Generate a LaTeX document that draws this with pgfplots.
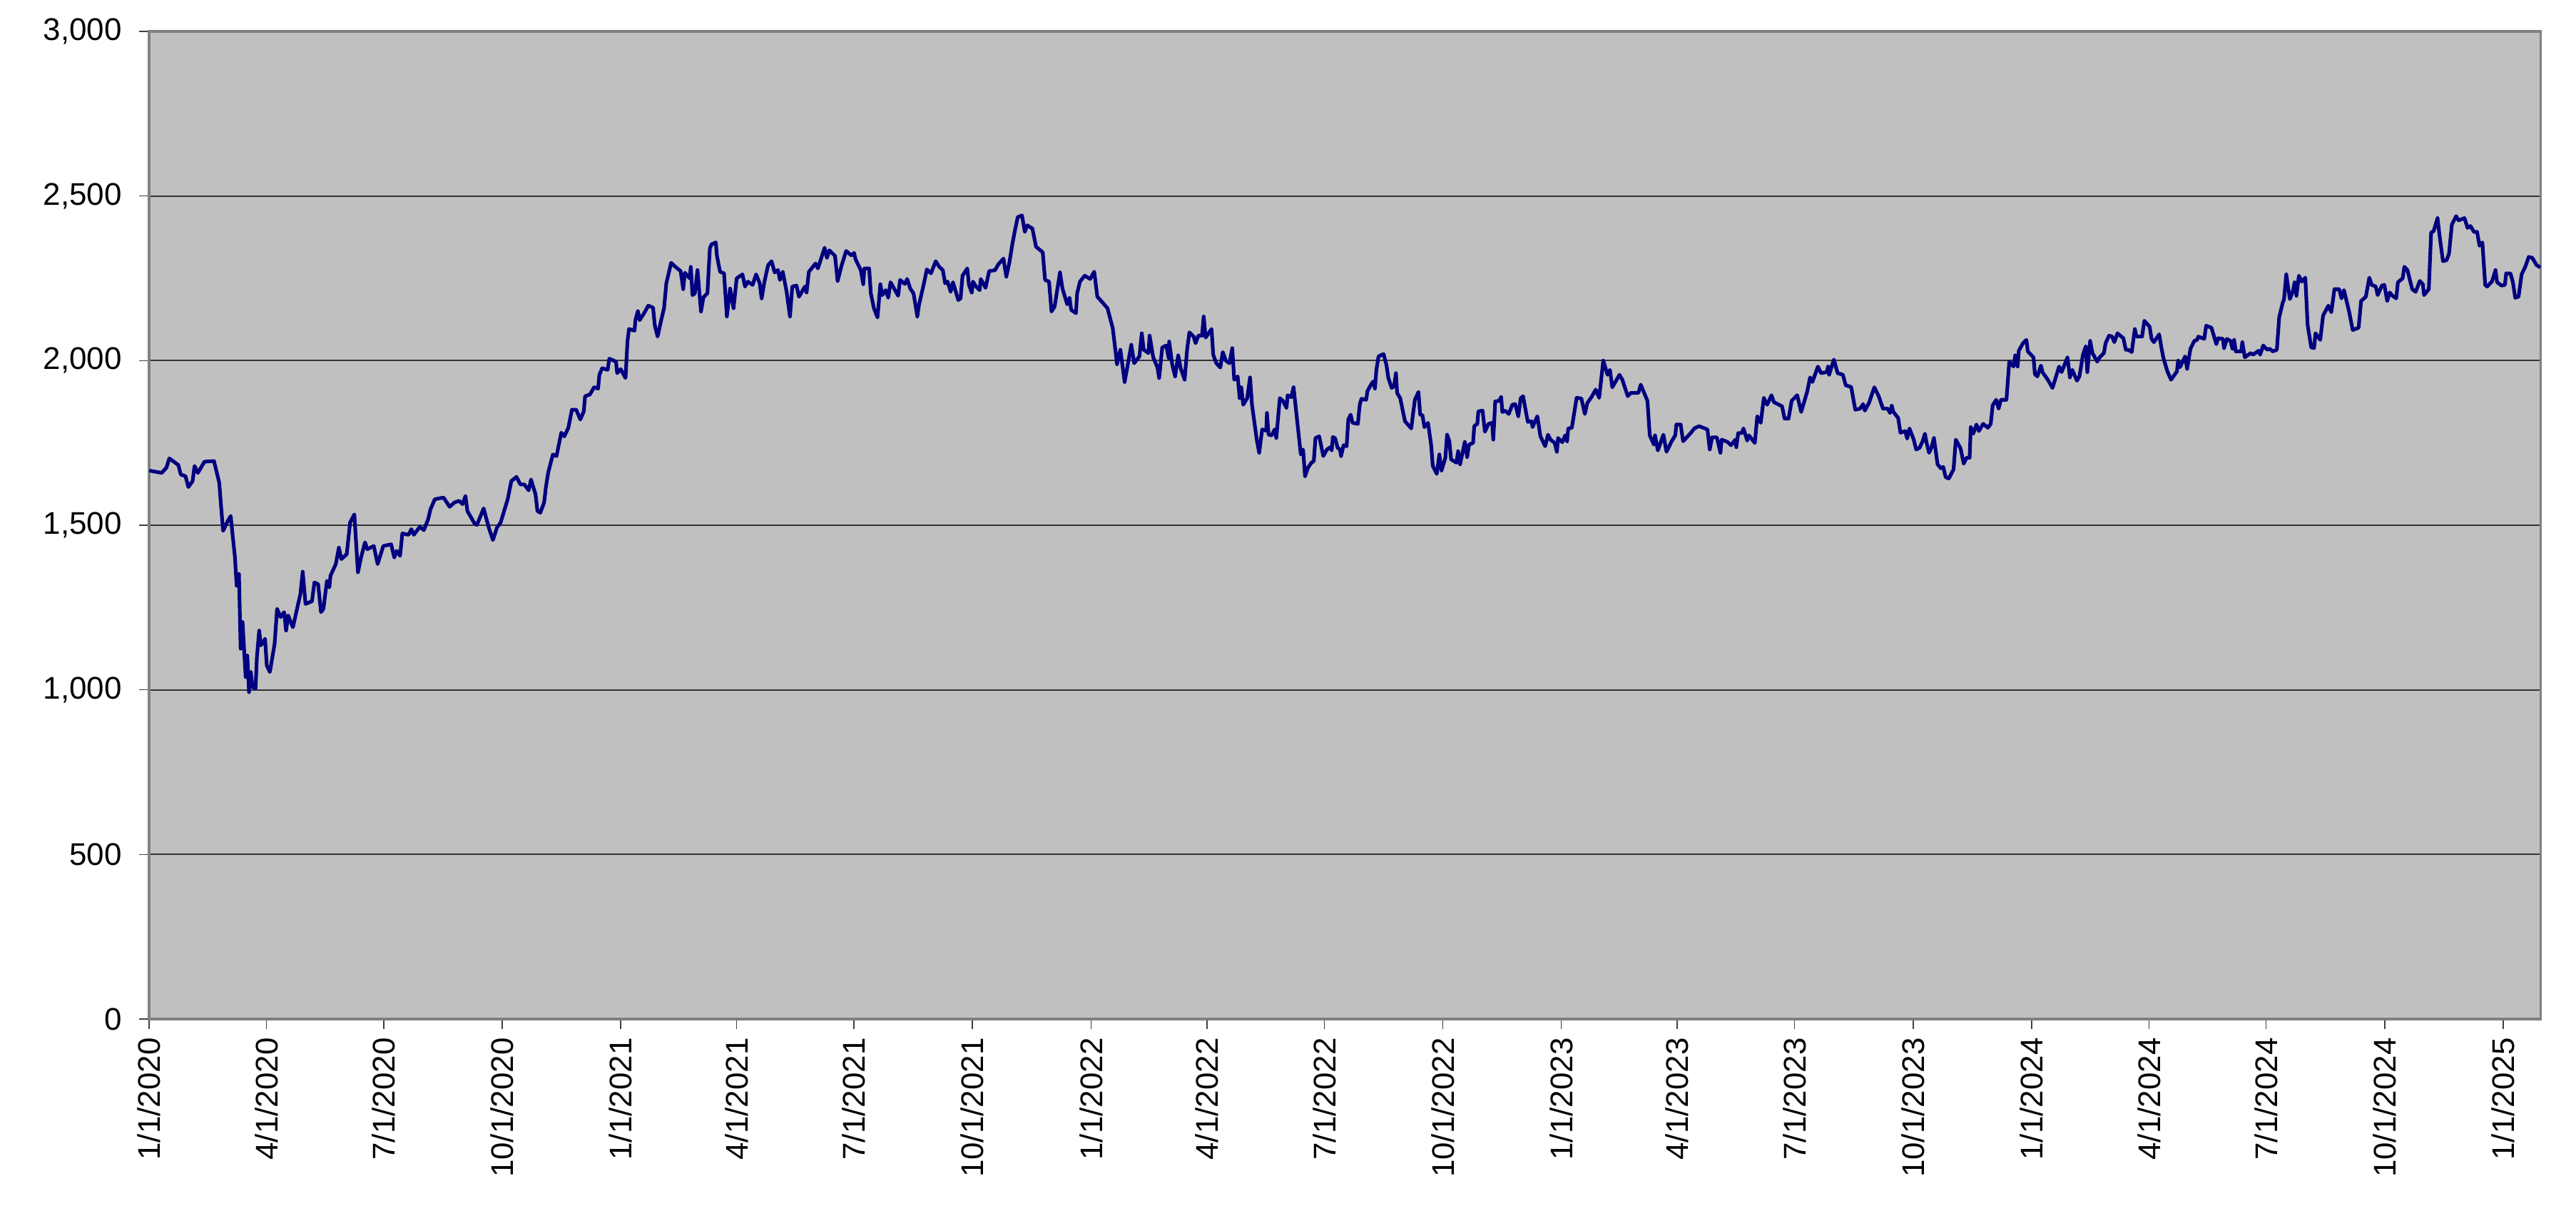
\documentclass[border=0pt]{standalone}
\usepackage{fontspec}
\setmainfont{Liberation Sans}
\usepackage{pgfplots}
\usepackage{pgfplotstable}
\pgfplotsset{compat=1.18}
\definecolor{silverbg}{RGB}{192,192,192}
\definecolor{navyline}{RGB}{0,0,128}
\definecolor{bordergray}{RGB}{128,128,128}
\pgfplotstableread{
x y
1.2 1666
10.9 1659
14.6 1675
16.8 1703
23.8 1683
25.7 1654
29.4 1649
31.6 1616
34.9 1634
36.4 1680
39.0 1659
44.1 1693
51.5 1695
55.6 1629
57.1 1553
58.6 1483
62.2 1513
64.5 1528
65.9 1473
67.8 1402
69.1 1316
70.9 1352
72.2 1125
73.7 1206
76.1 1039
77.4 1104
78.7 993
80.1 1054
81.4 1009
83.8 1004
84.8 1098
86.6 1180
87.9 1135
91.2 1155
92.5 1074
94.9 1054
98.6 1140
100.5 1246
103.2 1221
106.0 1236
107.5 1180
109.1 1226
112.8 1190
118.6 1291
120.4 1359
122.6 1261
127.6 1269
129.5 1326
132.4 1321
134.6 1236
136.5 1246
139.2 1331
141.1 1311
142.0 1347
146.1 1382
148.5 1432
150.4 1397
154.6 1412
157.2 1508
160.5 1533
163.3 1357
165.7 1402
168.8 1448
170.6 1427
175.6 1437
178.6 1382
183.0 1437
189.1 1442
191.5 1402
193.4 1422
196.0 1407
197.8 1475
202.6 1471
204.8 1488
206.7 1471
211.3 1495
214.5 1485
217.8 1518
219.6 1548
223.0 1579
229.8 1584
234.5 1556
238.2 1569
241.9 1574
244.6 1564
246.8 1589
248.3 1543
253.9 1505
255.7 1501
260.9 1551
264.9 1493
268.1 1455
271.3 1493
274.1 1508
279.6 1579
282.4 1634
286.4 1647
289.4 1624
292.5 1624
295.9 1606
297.7 1639
301.2 1594
302.7 1543
304.9 1538
307.9 1569
309.2 1614
311.0 1659
314.7 1715
317.5 1710
321.2 1781
323.6 1770
326.7 1796
329.5 1851
332.8 1851
336.0 1821
338.7 1846
339.7 1892
343.4 1897
346.7 1919
349.8 1915
350.8 1957
353.0 1977
357.2 1972
358.5 2006
363.7 1997
364.6 1962
367.4 1974
371.1 1947
372.6 2058
373.8 2096
378.1 2091
378.8 2123
380.7 2151
382.1 2123
385.5 2144
388.8 2167
392.5 2161
393.8 2108
396.0 2073
398.8 2123
401.0 2159
402.8 2235
406.5 2297
409.8 2285
413.9 2272
415.9 2217
417.2 2267
420.9 2250
421.8 2285
423.1 2199
424.9 2204
427.0 2275
429.7 2149
431.6 2192
434.7 2205
436.6 2341
437.8 2353
441.2 2359
442.1 2318
444.5 2270
447.6 2265
449.8 2134
452.3 2219
455.0 2159
457.4 2250
461.9 2262
463.9 2225
466.1 2240
469.8 2230
472.5 2262
475.3 2235
476.8 2189
479.0 2240
481.8 2290
484.5 2302
486.9 2268
489.5 2275
491.0 2245
493.2 2270
496.2 2209
498.8 2134
500.6 2225
503.9 2228
505.8 2194
510.4 2225
511.7 2207
513.5 2270
518.7 2295
520.5 2280
525.7 2343
527.5 2312
529.4 2335
533.8 2318
535.8 2242
539.0 2290
542.4 2333
546.4 2320
548.6 2327
549.7 2308
553.8 2275
555.7 2232
556.6 2280
560.3 2280
561.6 2204
564.0 2159
566.8 2131
569.0 2232
570.5 2199
573.2 2214
575.1 2191
576.9 2238
578.8 2225
582.8 2197
584.3 2245
588.0 2233
589.8 2248
592.2 2219
594.8 2204
597.7 2134
599.0 2169
602.7 2232
605.1 2277
608.3 2265
612.0 2302
614.7 2285
617.5 2275
619.3 2235
621.2 2240
623.6 2209
625.4 2238
629.5 2184
631.3 2189
632.8 2258
636.5 2280
637.8 2230
640.0 2206
640.9 2240
643.3 2225
646.1 2214
647.0 2248
650.7 2221
653.5 2272
658.1 2275
660.5 2292
664.6 2310
666.8 2255
669.2 2298
671.6 2356
673.8 2401
675.7 2436
679.0 2441
681.2 2391
683.1 2411
687.1 2401
689.9 2346
695.1 2329
696.9 2245
700.0 2240
701.9 2149
704.3 2164
708.5 2268
710.4 2219
714.1 2171
715.9 2191
717.2 2154
720.9 2144
721.8 2204
724.0 2240
727.7 2258
731.9 2248
735.1 2270
737.5 2194
742.1 2174
745.4 2159
749.5 2098
752.8 1989
755.4 2033
758.7 1935
763.9 2048
766.1 1992
770.2 2013
772.0 2083
773.5 2033
777.2 2023
778.1 2076
780.9 2010
784.2 1979
785.5 1947
787.9 2040
791.0 2046
792.9 2008
793.3 2058
795.7 1987
797.9 1952
800.3 2016
802.2 1977
805.3 1942
807.2 2033
809.0 2086
812.3 2073
813.8 2053
816.0 2076
818.8 2076
820.1 2134
821.6 2070
826.2 2096
827.5 2018
829.9 1992
833.0 1979
834.9 2026
837.3 2000
840.1 1992
842.3 2038
843.8 1942
846.5 1952
848.0 1886
849.3 1919
850.8 1866
853.9 1886
856.1 1949
857.6 1866
861.3 1760
863.2 1720
865.5 1791
868.7 1787
869.2 1841
870.5 1775
872.9 1773
875.2 1791
876.5 1765
879.2 1886
881.6 1878
884.4 1856
885.3 1895
888.1 1889
889.9 1919
895.5 1715
897.3 1730
898.8 1649
901.0 1674
903.8 1690
905.6 1695
906.9 1765
909.8 1770
913.0 1710
915.8 1730
918.5 1737
919.5 1727
920.4 1768
922.2 1764
924.1 1735
925.9 1730
926.8 1710
928.7 1743
931.1 1740
932.4 1821
934.2 1836
935.7 1811
939.8 1808
941.3 1866
942.6 1884
946.3 1881
947.2 1907
950.0 1927
951.8 1937
953.1 1915
954.2 1972
955.9 2013
959.8 2020
962.0 1987
963.5 1947
966.1 1917
967.9 1922
969.4 1962
970.3 1902
972.7 1886
976.4 1816
981.3 1794
982.6 1836
984.1 1881
986.9 1905
988.2 1836
990.0 1834
991.5 1798
994.3 1811
996.7 1745
998.0 1680
1001.1 1656
1003.1 1715
1004.8 1666
1007.8 1705
1009.1 1775
1010.9 1755
1012.2 1700
1016.4 1690
1017.7 1725
1019.2 1685
1022.9 1753
1024.7 1707
1026.2 1745
1029.3 1750
1030.2 1801
1032.6 1808
1033.4 1846
1036.7 1848
1038.5 1784
1041.3 1808
1044.1 1811
1045.0 1760
1046.5 1876
1049.6 1878
1051.1 1890
1052.0 1844
1054.2 1848
1057.0 1838
1059.8 1866
1062.0 1868
1064.4 1831
1066.3 1886
1068.1 1892
1071.8 1814
1074.6 1816
1075.5 1798
1079.2 1831
1081.6 1770
1085.3 1740
1087.5 1775
1089.4 1760
1092.7 1750
1094.4 1723
1095.3 1765
1098.6 1752
1100.8 1773
1102.3 1755
1103.2 1794
1106.0 1796
1109.7 1887
1113.4 1885
1116.1 1838
1118.0 1871
1121.7 1892
1124.5 1912
1127.2 1887
1130.4 2000
1133.7 1957
1135.6 1972
1137.4 1919
1143.0 1957
1145.2 1942
1149.4 1892
1151.8 1902
1157.7 1902
1159.5 1927
1164.7 1878
1166.5 1773
1169.7 1745
1170.6 1773
1172.8 1727
1177.1 1775
1179.5 1723
1183.5 1755
1186.3 1773
1187.2 1806
1190.5 1806
1192.4 1755
1198.3 1780
1201.1 1794
1204.8 1801
1211.3 1791
1213.1 1730
1214.9 1767
1218.6 1767
1221.4 1720
1222.3 1760
1226.9 1753
1229.6 1743
1233.0 1760
1233.7 1737
1235.2 1780
1238.0 1780
1239.3 1794
1242.2 1757
1243.5 1773
1248.1 1750
1250.0 1831
1252.7 1811
1255.1 1887
1257.7 1866
1261.0 1895
1262.9 1874
1269.3 1861
1271.2 1824
1274.3 1824
1276.7 1878
1281.0 1895
1284.1 1844
1288.7 1905
1291.0 1949
1292.8 1935
1297.1 1982
1299.5 1962
1303.9 1965
1305.0 1982
1305.8 1957
1309.5 2003
1312.4 1962
1316.5 1957
1318.7 1925
1322.9 1920
1326.1 1851
1329.8 1854
1332.2 1868
1333.5 1848
1336.7 1871
1340.9 1919
1344.3 1892
1347.6 1854
1351.3 1854
1353.1 1841
1354.4 1864
1355.7 1844
1359.4 1826
1361.2 1781
1364.9 1786
1366.4 1763
1368.2 1794
1371.5 1760
1373.4 1730
1376.0 1735
1378.4 1755
1380.2 1778
1381.5 1750
1383.4 1720
1385.2 1735
1387.2 1765
1390.0 1685
1392.6 1673
1394.4 1677
1396.3 1646
1398.7 1642
1402.4 1669
1404.2 1760
1407.9 1733
1410.3 1687
1412.5 1705
1414.9 1705
1415.8 1798
1417.7 1778
1420.2 1806
1422.1 1786
1425.4 1808
1429.1 1796
1431.3 1808
1432.8 1864
1435.5 1881
1437.4 1854
1439.2 1881
1443.5 1881
1445.7 1997
1449.0 1982
1450.3 2016
1452.2 1982
1453.1 2030
1456.4 2053
1459.0 2063
1460.1 2028
1464.5 2010
1465.6 1959
1467.5 1952
1470.3 1985
1471.5 1965
1475.6 1942
1479.3 1917
1484.4 1982
1486.3 1965
1490.9 2010
1492.8 1949
1494.6 1972
1498.3 1939
1500.2 1952
1502.9 2018
1505.1 2043
1506.3 1965
1508.5 2060
1510.3 2023
1514.0 1997
1515.9 2010
1519.2 2023
1520.5 2053
1523.2 2076
1525.5 2073
1527.3 2056
1529.7 2083
1534.3 2068
1536.2 2033
1538.0 2033
1540.8 2026
1543.2 2096
1544.5 2073
1548.8 2073
1550.6 2121
1554.7 2103
1556.2 2066
1558.0 2056
1562.1 2080
1563.9 2038
1565.4 2008
1568.5 1967
1571.3 1942
1575.9 1967
1576.8 2000
1578.3 1980
1582.3 2013
1583.8 1975
1586.4 2036
1589.4 2060
1591.6 2063
1592.5 2073
1597.1 2066
1598.6 2106
1602.7 2100
1606.5 2050
1607.9 2068
1611.6 2066
1612.5 2038
1614.7 2066
1617.5 2060
1619.0 2036
1620.3 2063
1621.6 2028
1625.8 2028
1626.7 2056
1628.6 2010
1633.2 2023
1635.0 2018
1639.3 2030
1640.5 2018
1642.9 2046
1646.1 2033
1647.9 2036
1650.3 2028
1653.5 2033
1655.3 2131
1658.1 2177
1659.0 2184
1660.8 2262
1663.6 2187
1666.0 2211
1667.3 2238
1668.7 2197
1670.6 2258
1672.8 2240
1675.6 2252
1677.4 2108
1680.2 2040
1682.4 2038
1683.5 2083
1687.2 2063
1689.4 2137
1693.5 2167
1695.8 2147
1698.2 2217
1701.9 2217
1703.7 2189
1705.6 2214
1709.6 2149
1712.4 2093
1717.0 2100
1718.9 2181
1722.6 2194
1725.3 2252
1727.2 2230
1730.3 2225
1731.8 2199
1735.1 2228
1737.0 2230
1739.2 2181
1741.1 2207
1743.3 2197
1746.2 2189
1747.5 2238
1751.2 2250
1752.5 2285
1754.9 2275
1758.6 2217
1761.3 2209
1764.5 2242
1766.9 2232
1767.8 2199
1771.5 2217
1773.3 2389
1775.2 2393
1778.3 2433
1779.8 2381
1782.5 2302
1785.3 2305
1787.2 2325
1789.4 2413
1792.7 2439
1794.6 2426
1799.2 2433
1801.6 2403
1803.8 2409
1806.6 2391
1809.0 2391
1810.9 2349
1813.1 2359
1815.3 2230
1816.8 2225
1820.5 2240
1823.3 2275
1824.5 2238
1827.9 2228
1830.6 2230
1831.6 2265
1834.9 2265
1836.8 2238
1838.6 2191
1841.2 2194
1843.6 2262
1846.4 2285
1849.1 2315
1851.9 2312
1855.2 2290
1857.4 2285
1858.2 2282
}\datatable
\begin{document}
\begin{tikzpicture}
\useasboundingbox (-2.09,-2.89) rectangle (34.02,14.28);
\begin{axis}[
  at={(0,0)}, anchor=south west, scale only axis,
  width=33.525cm, height=13.84cm,
  xmin=1.108, xmax=1858.4, ymin=0, ymax=3000,
  axis background/.style={fill=silverbg},
  axis line style={draw=bordergray, line width=1.1pt},
  ytick={0,500,1000,1500,2000,2500,3000},
  yticklabels={0,500,{1,000},{1,500},{2,000},{2,500},{3,000}},
  xtick={1.11,92.17,183.23,275.29,367.35,457.41,548.47,640.53,732.59,822.65,913.71,1005.77,1097.83,1187.89,1278.95,1371.01,1463.07,1554.13,1645.19,1737.25,1829.31},
  xticklabels={1/1/2020,4/1/2020,7/1/2020,10/1/2020,1/1/2021,4/1/2021,7/1/2021,10/1/2021,1/1/2022,4/1/2022,7/1/2022,10/1/2022,1/1/2023,4/1/2023,7/1/2023,10/1/2023,1/1/2024,4/1/2024,7/1/2024,10/1/2024,1/1/2025},
  xtick pos=bottom, ytick pos=left,
  tick align=outside, major tick length=0.14cm,
  minor tick num=0,
  tick style={draw=black!75, line width=0.45pt},
  ymajorgrids, major grid style={draw=black!80, line width=0.5pt},
  tick label style={font=\fontsize{12.5}{15}\selectfont},
  xticklabel style={rotate=90, anchor=east},
  yticklabel style={xshift=-0.12cm},
  /pgf/number format/assume math mode=true,
]
\addplot[color=navyline, line width=1.45pt, line join=round, mark=none] table {\datatable};
\end{axis}
\end{tikzpicture}
\end{document}
